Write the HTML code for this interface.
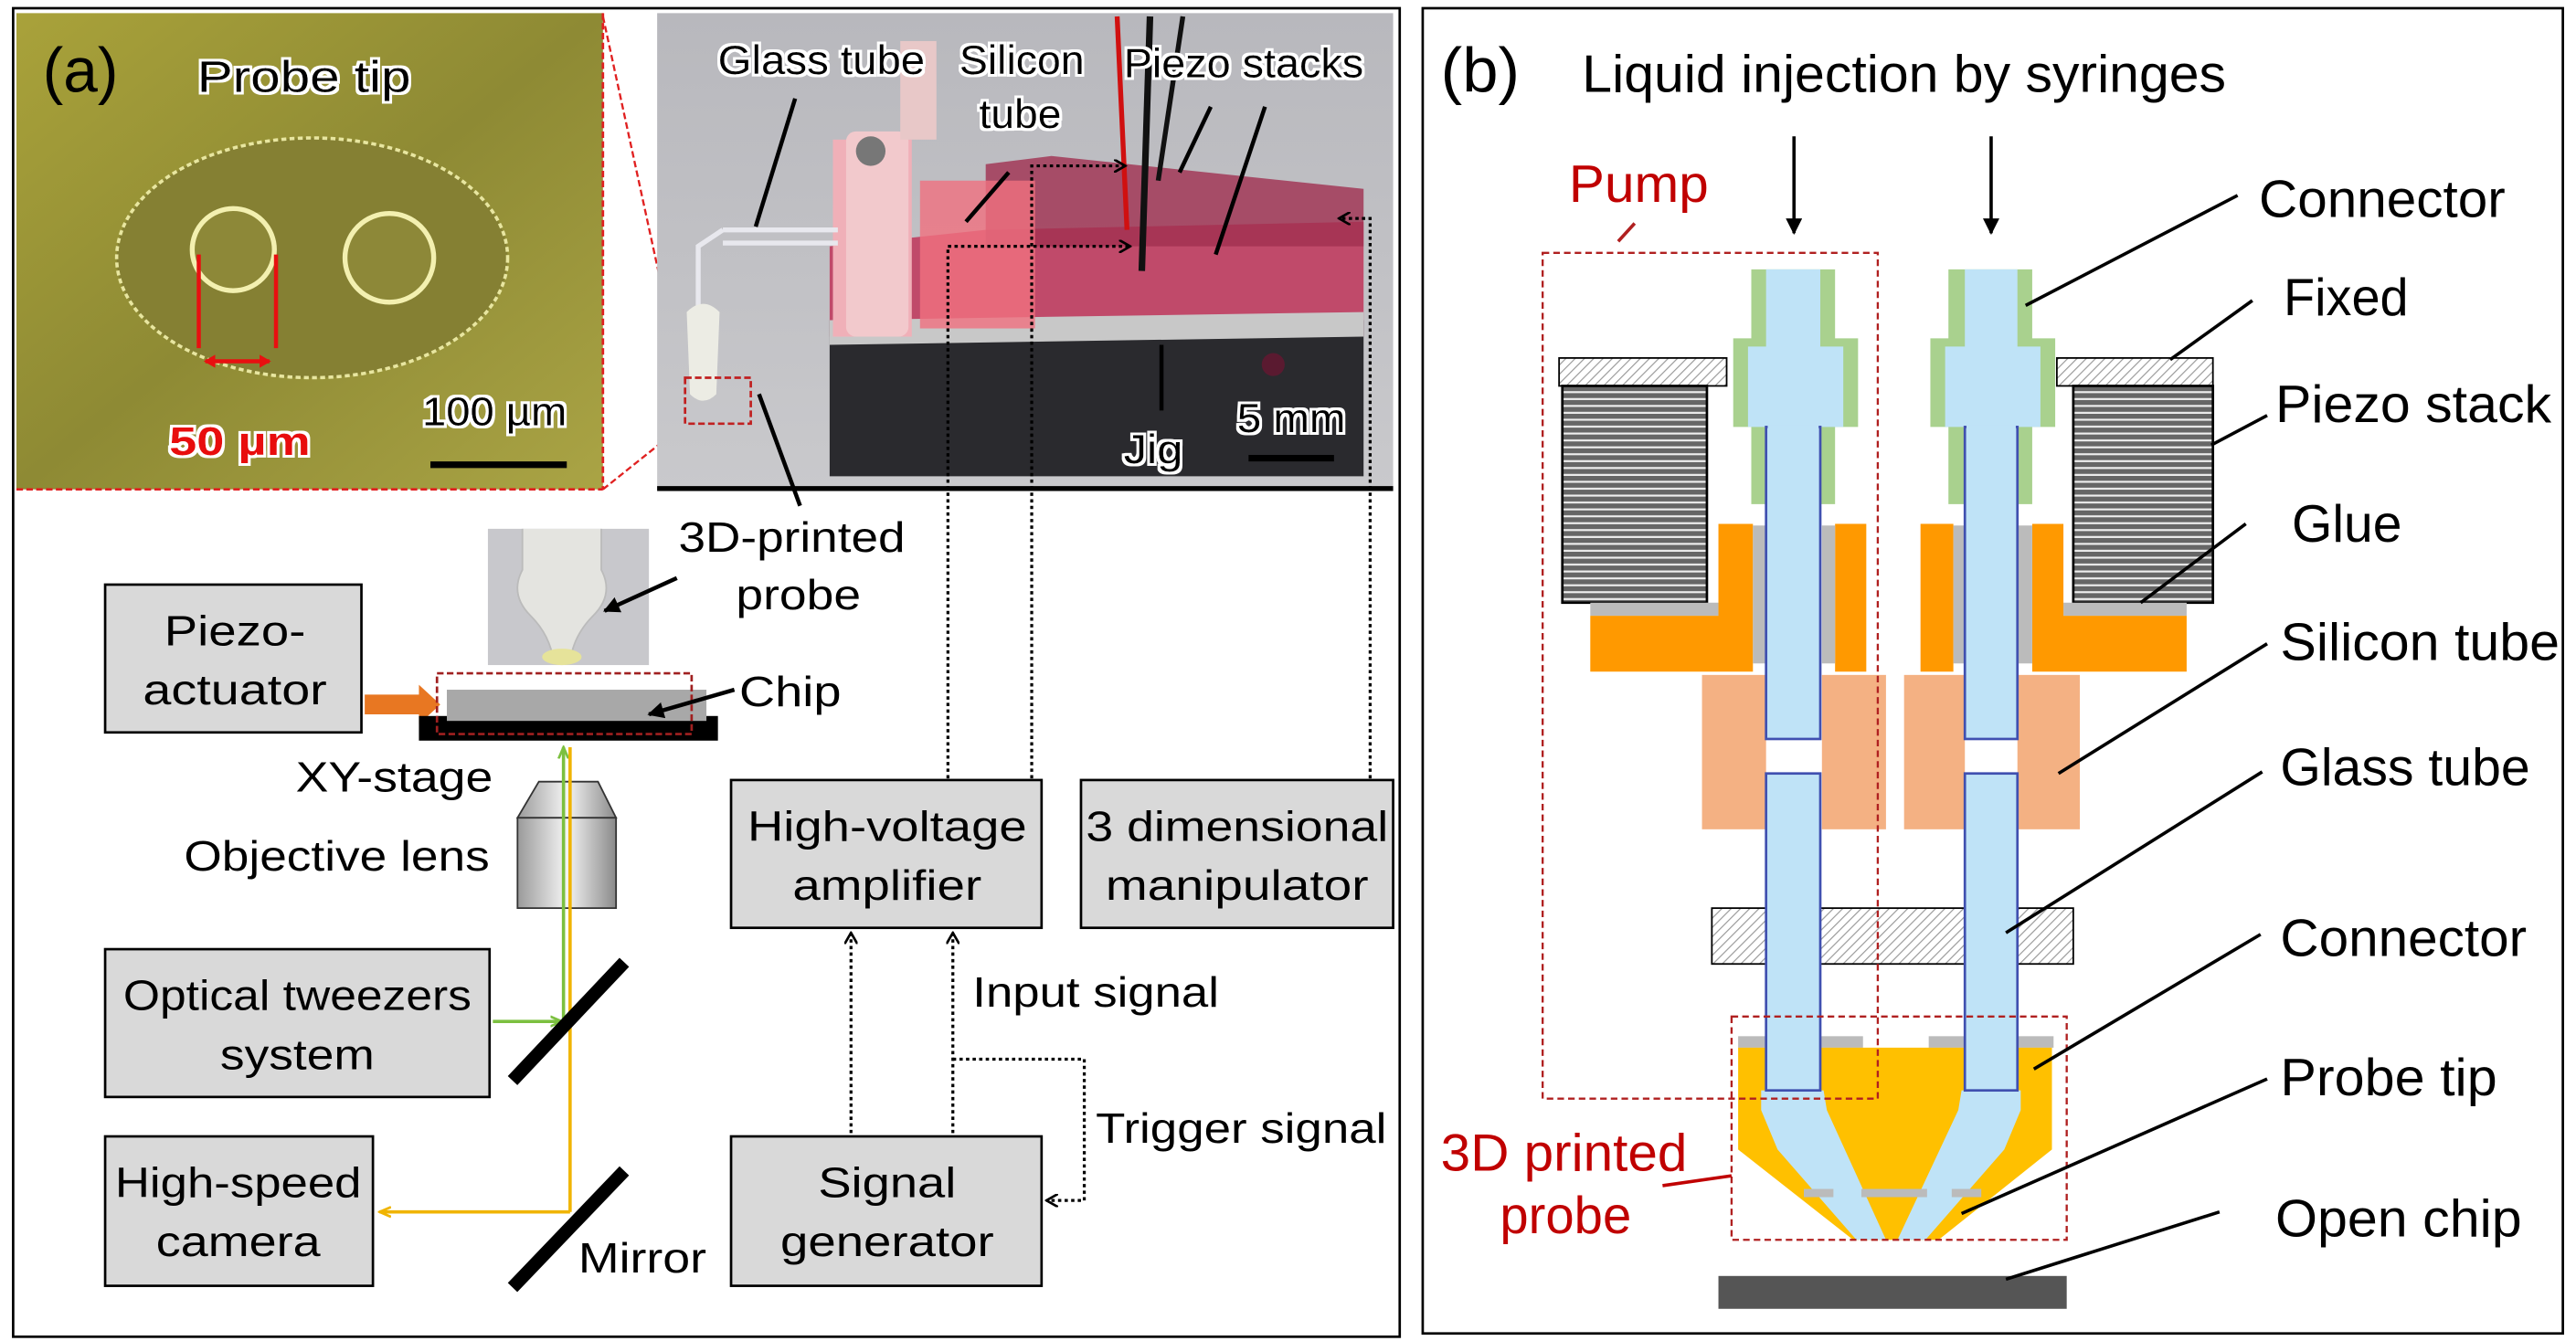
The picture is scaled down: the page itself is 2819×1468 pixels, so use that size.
<!DOCTYPE html>
<html><head><meta charset="utf-8"><style>
html,body{margin:0;padding:0;background:#fff}
svg{display:block}
text{font-family:"Liberation Sans",Arial,sans-serif;fill:#000}
.a{font-size:25px}
.b{font-size:26px}
</style></head><body>
<svg width="2819" height="1468" viewBox="0 0 1568 816.6" preserveAspectRatio="none" xmlns="http://www.w3.org/2000/svg">
<defs>
<linearGradient id="olive" x1="0" y1="0" x2="1" y2="1"><stop offset="0" stop-color="#a9a23a"/><stop offset="0.5" stop-color="#8e8a34"/><stop offset="1" stop-color="#aaa445"/></linearGradient>
<linearGradient id="gph" x1="0" y1="0" x2="0" y2="1"><stop offset="0" stop-color="#b8b8bd"/><stop offset="1" stop-color="#c9c9cc"/></linearGradient>
<linearGradient id="lens" x1="0" y1="0" x2="1" y2="0"><stop offset="0" stop-color="#9a9a9a"/><stop offset="0.5" stop-color="#f4f4f4"/><stop offset="1" stop-color="#8a8a8a"/></linearGradient>
<pattern id="hatch" width="4" height="4" patternUnits="userSpaceOnUse" patternTransform="rotate(45)"><rect width="4" height="4" fill="#fff"/><line x1="0" y1="0" x2="0" y2="4" stroke="#999" stroke-width="1.3"/></pattern>
<pattern id="piezo" width="4" height="4.2" patternUnits="userSpaceOnUse"><rect width="4" height="4.2" fill="#666"/><rect y="3" width="4" height="1.2" fill="#eee"/></pattern>
<marker id="ar" markerWidth="8" markerHeight="8" refX="7" refY="4" orient="auto" markerUnits="userSpaceOnUse"><path d="M0,0 L7,4 L0,8" fill="none" stroke="#000" stroke-width="1.5"/></marker>
<marker id="arf" markerWidth="10" markerHeight="10" refX="9" refY="5" orient="auto" markerUnits="userSpaceOnUse"><path d="M0,0 L10,5 L0,10 Z" fill="#000"/></marker>
<marker id="ary" markerWidth="8" markerHeight="8" refX="7" refY="4" orient="auto" markerUnits="userSpaceOnUse"><path d="M0,1 L7,4 L0,7" fill="none" stroke="#f0b400" stroke-width="1.5"/></marker>
<marker id="arg" markerWidth="8" markerHeight="8" refX="7" refY="4" orient="auto" markerUnits="userSpaceOnUse"><path d="M0,1 L7,4 L0,7" fill="none" stroke="#7cc040" stroke-width="1.5"/></marker>
<filter id="halo"><feMorphology in="SourceAlpha" operator="dilate" radius="1.6" result="d"/><feFlood flood-color="#fff"/><feComposite in2="d" operator="in"/><feMerge><feMergeNode/><feMergeNode in="SourceGraphic"/></feMerge></filter>
</defs>

<rect x="8" y="5" width="844" height="809" fill="#fff" stroke="#000" stroke-width="1.5"/>

<rect x="10" y="8" width="357" height="290" fill="url(#olive)"/>
<ellipse cx="190" cy="157" rx="119" ry="73" fill="#858033" stroke="#e8e6a0" stroke-width="2" stroke-dasharray="3 2"/>
<circle cx="142" cy="152" r="25" fill="#8d8838" stroke="#f3f0b0" stroke-width="3"/>
<circle cx="237" cy="157" r="27" fill="#8d8838" stroke="#f3f0b0" stroke-width="3"/>
<line x1="367" y1="8" x2="367" y2="298" stroke="#e02020" stroke-width="1.5" stroke-dasharray="4 2"/>
<line x1="10" y1="298" x2="367" y2="298" stroke="#e02020" stroke-width="1.5" stroke-dasharray="4 2"/>
<text x="26" y="56" style="font-size:38px" textLength="46" lengthAdjust="spacingAndGlyphs">(a)</text>
<text x="120" y="56" filter="url(#halo)" style="font-size:27px" textLength="130" lengthAdjust="spacingAndGlyphs">Probe tip</text>
<line x1="121" y1="155" x2="121" y2="212" stroke="#e81010" stroke-width="2.5"/>
<line x1="168" y1="155" x2="168" y2="212" stroke="#e81010" stroke-width="2.5"/>
<line x1="125" y1="220" x2="164" y2="220" stroke="#e81010" stroke-width="2.5"/>
<path d="M124,220 l7,-4 v8z M165,220 l-7,-4 v8z" fill="#e81010"/>
<text x="103" y="277" filter="url(#halo)" style="font-size:24px;font-weight:bold;fill:#e81010" textLength="86" lengthAdjust="spacingAndGlyphs">50 µm</text>
<text x="257" y="259" filter="url(#halo)" style="font-size:24px" textLength="88" lengthAdjust="spacingAndGlyphs">100 µm</text>
<line x1="262" y1="283" x2="345" y2="283" stroke="#000" stroke-width="4"/>
<line x1="367" y1="10" x2="417" y2="240" stroke="#e02020" stroke-width="1.3" stroke-dasharray="4 2"/>
<line x1="367" y1="298" x2="417" y2="258" stroke="#e02020" stroke-width="1.3" stroke-dasharray="4 2"/>

<rect x="400" y="8" width="448" height="290" fill="url(#gph)"/>
<rect x="400" y="296" width="448" height="3" fill="#000"/>
<polygon points="505,150 600,140 830,135 830,205 505,205" fill="#c04a6a"/>
<polygon points="600,100 640,95 830,115 830,150 600,150" fill="#a03050" opacity="0.8"/>
<polygon points="505,195 830,195 830,290 505,290" fill="#2a2a2e"/>
<polygon points="505,195 830,190 830,205 505,210" fill="#c8c8c8"/>
<rect x="507" y="85" width="48" height="120" fill="#f0b0b8"/>
<rect x="560" y="110" width="70" height="90" fill="#f07080" opacity="0.8"/>
<rect x="515" y="80" width="38" height="125" rx="6" fill="#f2c9cc"/>
<circle cx="530" cy="92" r="9" fill="#777"/>
<rect x="548" y="25" width="22" height="60" fill="#e8c8c8"/>
<circle cx="775" cy="222" r="7" fill="#5a1a30"/>
<line x1="680" y1="10" x2="686" y2="140" stroke="#d01010" stroke-width="3"/>
<line x1="700" y1="10" x2="695" y2="165" stroke="#111" stroke-width="4"/>
<line x1="720" y1="10" x2="705" y2="110" stroke="#111" stroke-width="3"/>
<path d="M440,140 L510,140 M440,148 L510,148 M440,140 L425,150 L425,190" fill="none" stroke="#e8e8ee" stroke-width="3"/>
<path d="M418,190 q10,-10 20,0 l-2,50 q-8,8 -16,0z" fill="#ecece4"/>
<rect x="417" y="230" width="40" height="28" fill="none" stroke="#c02020" stroke-width="1.5" stroke-dasharray="4 2"/>
<text x="437" y="45" filter="url(#halo)" class="a" textLength="126" lengthAdjust="spacingAndGlyphs">Glass tube</text>
<text x="584" y="45" filter="url(#halo)" class="a" textLength="76" lengthAdjust="spacingAndGlyphs">Silicon</text>
<text x="596" y="78" filter="url(#halo)" class="a" textLength="50" lengthAdjust="spacingAndGlyphs">tube</text>
<text x="684" y="47" filter="url(#halo)" class="a" textLength="146" lengthAdjust="spacingAndGlyphs">Piezo stacks</text>
<text x="684" y="282" filter="url(#halo)" class="a" textLength="36" lengthAdjust="spacingAndGlyphs">Jig</text>
<text x="753" y="263" filter="url(#halo)" class="a" textLength="66" lengthAdjust="spacingAndGlyphs">5 mm</text>
<line x1="760" y1="279" x2="812" y2="279" stroke="#000" stroke-width="4"/>
<g stroke="#000" stroke-width="2.5">
<line x1="484" y1="60" x2="460" y2="138"/>
<line x1="614" y1="105" x2="588" y2="135"/>
<line x1="737" y1="65" x2="718" y2="105"/>
<line x1="770" y1="65" x2="740" y2="155"/>
<line x1="707" y1="210" x2="707" y2="250"/>
<line x1="462" y1="240" x2="487" y2="308"/>
</g>

<g fill="none" stroke="#000" stroke-width="1.8" stroke-dasharray="2 2">
<polyline points="577,474 577,150 688,150" marker-end="url(#ar)"/>
<polyline points="628,474 628,101 685,101" marker-end="url(#ar)"/>
<polyline points="834,474 834,133 815,133" marker-end="url(#ar)"/>
<polyline points="518,690 518,568" marker-end="url(#ar)"/>
<polyline points="580,690 580,568" marker-end="url(#ar)"/>
<polyline points="580,645 660,645 660,731 637,731" marker-end="url(#ar)"/>
</g>

<rect x="297" y="322" width="98" height="83" fill="#c8c8cc"/>
<path d="M318,322 v25 q-8,15 5,28 q12,12 14,28 h10 q2,-16 14,-28 q13,-13 5,-28 v-25" fill="#e4e4e0" stroke="#bbb"/>
<ellipse cx="342" cy="400" rx="12" ry="5" fill="#e6e39a"/>
<text x="413" y="336" class="b" textLength="138" lengthAdjust="spacingAndGlyphs">3D-printed</text>
<text x="448" y="371" class="b" textLength="76" lengthAdjust="spacingAndGlyphs">probe</text>
<line x1="412" y1="352" x2="368" y2="372" stroke="#000" stroke-width="2.5" marker-end="url(#arf)"/>

<rect x="64" y="356" width="156" height="90" fill="#d9d9d9" stroke="#000" stroke-width="1.5"/>
<text x="143" y="393" class="b" text-anchor="middle" textLength="86" lengthAdjust="spacingAndGlyphs">Piezo-</text>
<text x="143" y="429" class="b" text-anchor="middle" textLength="112" lengthAdjust="spacingAndGlyphs">actuator</text>
<polygon points="222,423 255,423 255,417 268,429 255,441 255,435 222,435" fill="#e87722"/>
<rect x="255" y="436" width="182" height="15" fill="#000"/>
<rect x="272" y="420" width="158" height="19" fill="#a8a8a8"/>
<rect x="266" y="410" width="155" height="37" fill="none" stroke="#a02020" stroke-width="1.5" stroke-dasharray="4 2"/>
<text x="450" y="430" class="b" textLength="62" lengthAdjust="spacingAndGlyphs">Chip</text>
<line x1="447" y1="420" x2="395" y2="435" stroke="#000" stroke-width="2.5" marker-end="url(#arf)"/>
<text x="180" y="482" class="b" textLength="120" lengthAdjust="spacingAndGlyphs">XY-stage</text>
<text x="112" y="530" class="b" textLength="186" lengthAdjust="spacingAndGlyphs">Objective lens</text>
<polygon points="328,476 364,476 375,498 315,498" fill="url(#lens)" stroke="#333"/>
<rect x="315" y="498" width="60" height="55" fill="url(#lens)" stroke="#333"/>

<line x1="343" y1="625" x2="343" y2="455" stroke="#7cc040" stroke-width="2" marker-end="url(#arg)"/>
<line x1="347" y1="455" x2="347" y2="738" stroke="#f0b400" stroke-width="2"/>
<line x1="300" y1="622" x2="342" y2="622" stroke="#7cc040" stroke-width="2" marker-end="url(#arg)"/>
<line x1="347" y1="738" x2="231" y2="738" stroke="#f0b400" stroke-width="2" marker-end="url(#ary)"/>
<line x1="312" y1="658" x2="380" y2="586" stroke="#000" stroke-width="8"/>
<line x1="312" y1="784" x2="380" y2="713" stroke="#000" stroke-width="8"/>

<rect x="64" y="578" width="234" height="90" fill="#d9d9d9" stroke="#000" stroke-width="1.5"/>
<text x="181" y="615" class="b" text-anchor="middle" textLength="212" lengthAdjust="spacingAndGlyphs">Optical tweezers</text>
<text x="181" y="651" class="b" text-anchor="middle" textLength="94" lengthAdjust="spacingAndGlyphs">system</text>
<rect x="64" y="692" width="163" height="91" fill="#d9d9d9" stroke="#000" stroke-width="1.5"/>
<text x="145" y="729" class="b" text-anchor="middle" textLength="150" lengthAdjust="spacingAndGlyphs">High-speed</text>
<text x="145" y="765" class="b" text-anchor="middle" textLength="100" lengthAdjust="spacingAndGlyphs">camera</text>
<text x="352" y="775" class="b" textLength="78" lengthAdjust="spacingAndGlyphs">Mirror</text>

<rect x="445" y="475" width="189" height="90" fill="#d9d9d9" stroke="#000" stroke-width="1.5"/>
<text x="540" y="512" class="b" text-anchor="middle" textLength="170" lengthAdjust="spacingAndGlyphs">High-voltage</text>
<text x="540" y="548" class="b" text-anchor="middle" textLength="115" lengthAdjust="spacingAndGlyphs">amplifier</text>
<rect x="658" y="475" width="190" height="90" fill="#d9d9d9" stroke="#000" stroke-width="1.5"/>
<text x="753" y="512" class="b" text-anchor="middle" textLength="184" lengthAdjust="spacingAndGlyphs">3 dimensional</text>
<text x="753" y="548" class="b" text-anchor="middle" textLength="160" lengthAdjust="spacingAndGlyphs">manipulator</text>
<rect x="445" y="692" width="189" height="91" fill="#d9d9d9" stroke="#000" stroke-width="1.5"/>
<text x="540" y="729" class="b" text-anchor="middle" textLength="84" lengthAdjust="spacingAndGlyphs">Signal</text>
<text x="540" y="765" class="b" text-anchor="middle" textLength="130" lengthAdjust="spacingAndGlyphs">generator</text>
<text x="592" y="613" class="b" textLength="150" lengthAdjust="spacingAndGlyphs">Input signal</text>
<text x="667" y="696" class="b" textLength="177" lengthAdjust="spacingAndGlyphs">Trigger signal</text>

<rect x="866" y="5" width="694" height="807" fill="#fff" stroke="#000" stroke-width="1.5"/>
<text x="877" y="56" style="font-size:38px" textLength="48" lengthAdjust="spacingAndGlyphs">(b)</text>
<text x="963" y="56" style="font-size:32px" textLength="392" lengthAdjust="spacingAndGlyphs">Liquid injection by syringes</text>
<line x1="1092" y1="83" x2="1092" y2="142" stroke="#000" stroke-width="2" marker-end="url(#arf)"/>
<line x1="1212" y1="83" x2="1212" y2="142" stroke="#000" stroke-width="2" marker-end="url(#arf)"/>

<rect x="949" y="218" width="102" height="17" fill="url(#hatch)" stroke="#000"/>
<rect x="1252" y="218" width="95" height="17" fill="url(#hatch)" stroke="#000"/>
<rect x="951" y="235" width="88" height="132" fill="url(#piezo)" stroke="#000" stroke-width="1.5"/>
<rect x="1262" y="235" width="85" height="132" fill="url(#piezo)" stroke="#000" stroke-width="1.5"/>
<rect x="968" y="367" width="78" height="8" fill="#bbb"/>
<rect x="1256" y="367" width="75" height="8" fill="#bbb"/>
<polygon points="1046,319 1067,319 1067,409 968,409 968,375 1046,375" fill="#ff9900"/>
<rect x="1117" y="319" width="19" height="90" fill="#ff9900"/>
<rect x="1169" y="319" width="20" height="90" fill="#ff9900"/>
<polygon points="1237,319 1256,319 1256,375 1331,375 1331,409 1237,409" fill="#ff9900"/>
<rect x="1067" y="320" width="8" height="84" fill="#bbb"/>
<rect x="1109" y="320" width="8" height="84" fill="#bbb"/>
<rect x="1189" y="320" width="7" height="84" fill="#bbb"/>
<rect x="1228" y="320" width="9" height="84" fill="#bbb"/>
<rect x="1036" y="411" width="39" height="94" fill="#f4b183"/>
<rect x="1109" y="411" width="39" height="94" fill="#f4b183"/>
<rect x="1159" y="411" width="37" height="94" fill="#f4b183"/>
<rect x="1228" y="411" width="38" height="94" fill="#f4b183"/>
<rect x="1042" y="553" width="220" height="34" fill="url(#hatch)" stroke="#000"/>
<rect x="1058" y="631" width="76" height="7" fill="#bbb"/>
<rect x="1174" y="631" width="76" height="7" fill="#bbb"/>
<polygon points="1058,638 1249,638 1249,700 1180,755 1128,755 1058,700" fill="#ffc000"/>
<polygon points="1072,664 1110,664 1112,676 1148,755 1130,755 1082,700 1072,676" fill="#bfe3f7"/>
<polygon points="1194,664 1230,664 1230,676 1220,700 1172,755 1155,755 1192,676" fill="#bfe3f7"/>
<rect x="1098" y="724" width="18" height="5" fill="#bbb"/>
<rect x="1133" y="724" width="40" height="5" fill="#bbb"/>
<rect x="1188" y="724" width="18" height="5" fill="#bbb"/>
<polygon points="1066,164 1117,164 1117,206 1131,206 1131,260 1117,260 1117,307 1066,307 1066,260 1055,260 1055,206 1066,206" fill="#a9d18e"/>
<polygon points="1075,164 1108,164 1108,211 1122,211 1122,260 1064,260 1064,211 1075,211" fill="#bfe3f7"/>
<polygon points="1186,164 1237,164 1237,206 1251,206 1251,260 1237,260 1237,307 1186,307 1186,260 1175,260 1175,206 1186,206" fill="#a9d18e"/>
<polygon points="1196,164 1228,164 1228,211 1242,211 1242,260 1184,260 1184,211 1196,211" fill="#bfe3f7"/>
<g fill="#bfe3f7" stroke="#4050b0" stroke-width="1.5">
<rect x="1075" y="260" width="33" height="190"/>
<rect x="1075" y="471" width="33" height="193"/>
<rect x="1196" y="260" width="32" height="190"/>
<rect x="1196" y="471" width="32" height="193"/>
</g>
<rect x="1076" y="259" width="31" height="4" fill="#bfe3f7"/>
<rect x="1197" y="259" width="30" height="4" fill="#bfe3f7"/>
<rect x="939" y="154" width="204" height="515" fill="none" stroke="#b02020" stroke-width="1.3" stroke-dasharray="4 2.5"/>
<rect x="1054" y="619" width="204" height="136" fill="none" stroke="#b02020" stroke-width="1.3" stroke-dasharray="4 2.5"/>
<line x1="985" y1="147" x2="995" y2="136" stroke="#b02020" stroke-width="2"/>
<text x="955" y="123" style="font-size:32px;fill:#c00000" textLength="85" lengthAdjust="spacingAndGlyphs">Pump</text>
<text x="877" y="713" style="font-size:32px;fill:#c00000" textLength="150" lengthAdjust="spacingAndGlyphs">3D printed</text>
<text x="913" y="751" style="font-size:32px;fill:#c00000" textLength="80" lengthAdjust="spacingAndGlyphs">probe</text>
<line x1="1012" y1="722" x2="1054" y2="716" stroke="#c00000" stroke-width="2"/>
<rect x="1046" y="777" width="212" height="20" fill="#555"/>
<g style="font-size:32px">
<text x="1375" y="132" textLength="150" lengthAdjust="spacingAndGlyphs">Connector</text>
<text x="1390" y="192" textLength="76" lengthAdjust="spacingAndGlyphs">Fixed</text>
<text x="1385" y="257" textLength="168" lengthAdjust="spacingAndGlyphs">Piezo stack</text>
<text x="1395" y="330" textLength="67" lengthAdjust="spacingAndGlyphs">Glue</text>
<text x="1388" y="402" textLength="170" lengthAdjust="spacingAndGlyphs">Silicon tube</text>
<text x="1388" y="478" textLength="152" lengthAdjust="spacingAndGlyphs">Glass tube</text>
<text x="1388" y="582" textLength="150" lengthAdjust="spacingAndGlyphs">Connector</text>
<text x="1388" y="667" textLength="132" lengthAdjust="spacingAndGlyphs">Probe tip</text>
<text x="1385" y="753" textLength="150" lengthAdjust="spacingAndGlyphs">Open chip</text>
</g>
<g stroke="#000" stroke-width="2">
<line x1="1362" y1="119" x2="1233" y2="186"/>
<line x1="1371" y1="183" x2="1321" y2="219"/>
<line x1="1380" y1="253" x2="1346" y2="271"/>
<line x1="1367" y1="319" x2="1303" y2="367"/>
<line x1="1380" y1="392" x2="1253" y2="471"/>
<line x1="1377" y1="470" x2="1221" y2="568"/>
<line x1="1376" y1="569" x2="1238" y2="651"/>
<line x1="1380" y1="657" x2="1194" y2="739"/>
<line x1="1351" y1="738" x2="1221" y2="779"/>
</g>
</svg>
</body></html>
